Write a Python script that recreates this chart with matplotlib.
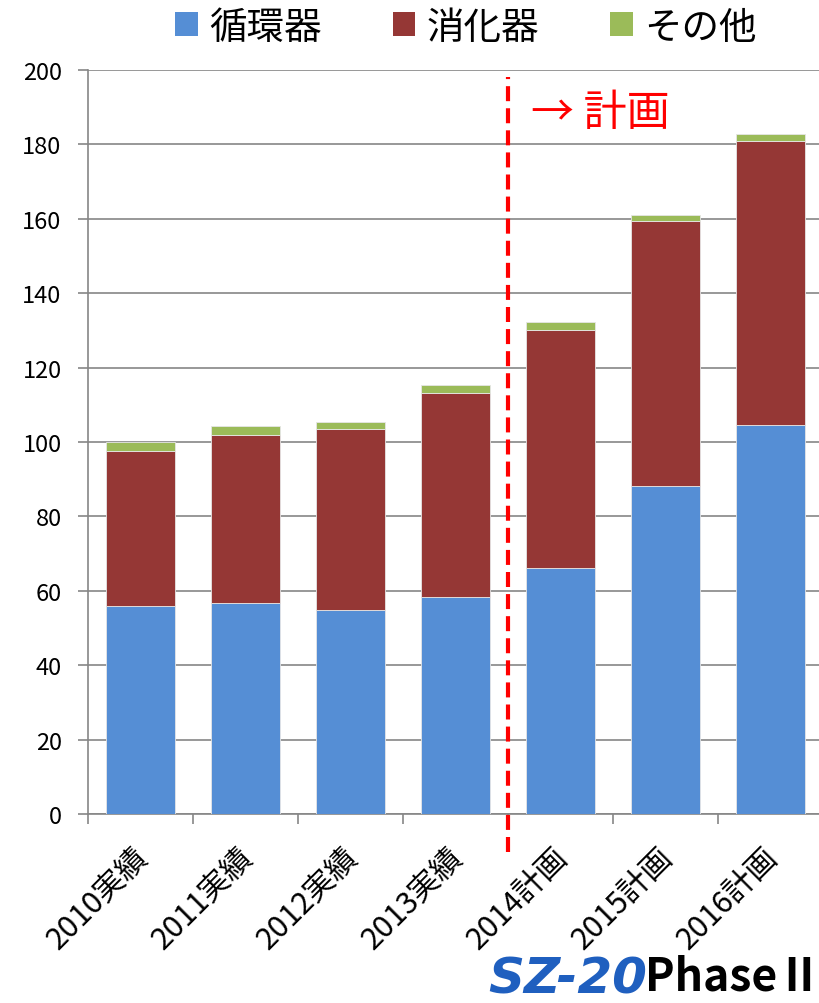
import matplotlib
matplotlib.use("Agg")
import matplotlib.pyplot as plt
import matplotlib.transforms as mtransforms
from matplotlib.patches import Patch
import numpy as np

plt.rcParams["font.family"] = ["Noto Sans CJK JP", "DejaVu Sans"]

categories = ["2010実績", "2011実績", "2012実績", "2013実績", "2014計画", "2015計画", "2016計画"]
circulatory = [56.0, 56.7, 54.8, 58.3, 66.1, 88.3, 104.6]
digestive = [41.7, 45.3, 48.6, 55.0, 64.1, 71.0, 76.4]
other = [2.2, 2.2, 1.9, 2.0, 2.0, 1.7, 1.9]
series_names = ["循環器", "消化器", "その他"]
colors = ["#558ED5", "#953735", "#9BBB59"]
y_ticks = [0, 20, 40, 60, 80, 100, 120, 140, 160, 180, 200]

GRID = "#868686"

fig = plt.figure(figsize=(8.2, 10.04), dpi=100)
ax = fig.add_axes([88 / 820, 1 - 815 / 1004, 735 / 820, (815 - 71) / 1004])

x = np.arange(len(categories))
bottom = np.zeros(len(categories))
for vals, col in zip([circulatory, digestive, other], colors):
    ax.bar(x, vals, width=0.664, bottom=bottom, color=col, edgecolor="#e6e6e6",
           linewidth=0.6, zorder=3)
    bottom += np.array(vals)

ax.set_xlim(-0.5, len(categories) - 0.5)
ax.set_ylim(0, 200)
ax.set_yticks(y_ticks)
ax.yaxis.grid(True, color=GRID, linewidth=1.2, zorder=0)
ax.set_axisbelow(True)
for s in ["top", "right"]:
    ax.spines[s].set_visible(False)
for s in ["left", "bottom"]:
    ax.spines[s].set_color(GRID)
    ax.spines[s].set_linewidth(1.2)

ax.tick_params(axis="y", length=7, width=1.2, color=GRID, pad=12, labelsize=17)
ax.set_xticks(x)
ax.set_xticklabels(categories, rotation=45, ha="right", rotation_mode="anchor",
                   fontsize=22)
ax.tick_params(axis="x", which="major", length=0, pad=20)
shift = mtransforms.ScaledTranslation(-8 / 100, 0, fig.dpi_scale_trans)
for lab in ax.get_xticklabels():
    lab.set_transform(lab.get_transform() + shift)
ax.set_xticks(np.arange(-0.5, len(categories), 1.0), minor=True)
ax.tick_params(axis="x", which="minor", length=7, width=1.2, color=GRID)

# plan divider
ax.axvline(3.5, ymin=-0.051, ymax=0.991, color="#ff0000", linewidth=3,
           linestyle=(0, (3.6, 1.7)), clip_on=False, zorder=5)
ax.text(3.72, 188.5, "→ 計画", color="#ff0000", fontsize=31, va="center", ha="left")

handles = [Patch(facecolor=c, edgecolor="none") for c in colors]
fig.legend(handles, series_names, loc="center", bbox_to_anchor=(0.568, 0.972),
           ncol=3, frameon=False, fontsize=27, handlelength=0.6, handleheight=0.6,
           handletextpad=0.3, columnspacing=1.9)

# logo
fig.text(0.595, 0.0, "SZ-20", color="#1f5fbf", fontsize=36, fontweight="heavy",
         fontstyle="italic", family=["DejaVu Sans"], ha="left", va="bottom")
fig.text(0.786, 0.003, "PhaseⅡ", color="black", fontsize=32, fontweight="bold",
         family=["Noto Sans CJK JP"], ha="left", va="bottom")

fig.savefig("out.png", dpi=100)
